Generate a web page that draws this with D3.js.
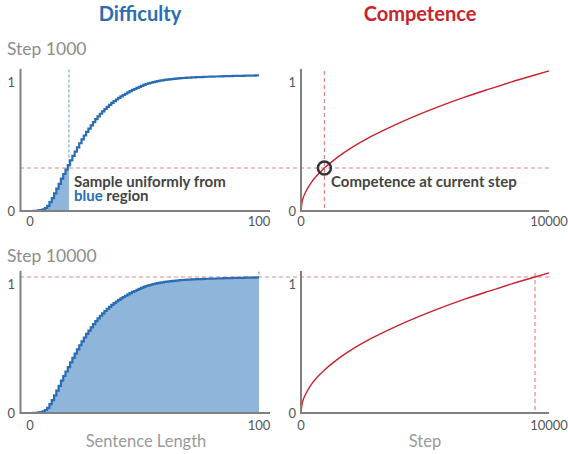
<!DOCTYPE html>
<html>
<head>
<meta charset="utf-8">
<script src="https://cdn.jsdelivr.net/npm/d3@7"></script>
<style>
body { margin: 0; background: #fff; }
text { font-family: Lato, "Open Sans", sans-serif; }
</style>
</head>
<body>
<div id="container"></div>
<script>
var width = 568,
    height = 454;

// sentence length 0..100 and the cumulative share of sentences
var lengths = d3.range(0, 101);
var cdfValues = [
    0, 0, 0.001, 0.002, 0.004, 0.007, 0.012, 0.022, 0.038, 0.065,
    0.095, 0.13, 0.165, 0.2, 0.238, 0.272, 0.305, 0.338, 0.372, 0.405,
    0.437, 0.468, 0.498, 0.527, 0.555, 0.582, 0.606, 0.63, 0.653, 0.675,
    0.696, 0.715, 0.733, 0.75, 0.766, 0.781, 0.795, 0.808, 0.82, 0.832,
    0.843, 0.853, 0.862, 0.872, 0.881, 0.89, 0.897, 0.905, 0.912, 0.92,
    0.928, 0.934, 0.939, 0.943, 0.947, 0.951, 0.955, 0.958, 0.961, 0.964,
    0.966, 0.968, 0.97, 0.972, 0.974, 0.975, 0.977, 0.978, 0.979, 0.98,
    0.981, 0.982, 0.983, 0.984, 0.985, 0.985, 0.986, 0.987, 0.987, 0.988,
    0.988, 0.989, 0.989, 0.99, 0.99, 0.991, 0.991, 0.992, 0.992, 0.993,
    0.993, 0.994, 0.994, 0.994, 0.995, 0.995, 0.996, 0.996, 0.996, 0.997,
    0.997
];

// competence curve over training steps
var compSteps = [0, 50, 100, 200, 400, 700, 1000, 1500, 2000, 3000, 4000, 5000, 6000, 7000, 8000, 9000, 10000, 10600];
var compValues = [0, 0.07, 0.1, 0.14, 0.2, 0.265, 0.316, 0.387, 0.447, 0.548, 0.632, 0.707, 0.775, 0.837, 0.894, 0.949, 1.0, 1.03];

// the two snapshots
var panelSteps = [1000, 10000];
var panelCompetence = [0.316, 1.0];
var panelCutLength = [17, 100];

var lenTicks = [0, 100];
var stepTicks = ["0", "10000"];
var yTicks = [0, 1];

var blue = "#2a6db3",
    blueFill = "#8fb5da",
    blueDash = "#74a8dc",
    red = "#c9232d",
    redDash = "#e5848a",
    axisCol = "#808080";

var svg = d3.select("#container").append("svg")
    .attr("width", width)
    .attr("height", height);

var xLen = d3.scaleLinear().domain([0, 100]).range([30, 259]);
var xStep = d3.scaleLinear().domain([0, 10000]).range([301, 535]);

var cdf = lengths.map((l, i) => ({len: l, v: cdfValues[i]}));
var comp = compSteps.map((s, i) => ({step: s, v: compValues[i]}));

// titles
svg.append("text").attr("x", 140).attr("y", 21).attr("text-anchor", "middle")
    .attr("font-size", 20).attr("font-weight", "bold").attr("fill", blue).text("Difficulty");
svg.append("text").attr("x", 420).attr("y", 21).attr("text-anchor", "middle")
    .attr("font-size", 20).attr("font-weight", "bold").attr("fill", red).text("Competence");

var rows = [
    {base: 211, labelY: 55, tickDy: 15},
    {base: 413, labelY: 262, tickDy: 17}
];

rows.forEach((row, r) => {
    var y = d3.scaleLinear().domain([0, 1]).range([row.base, row.base - 136]);
    var g = svg.append("g");
    var comp0 = panelCompetence[r];
    var cut = panelCutLength[r];

    g.append("text").attr("x", 7).attr("y", row.labelY)
        .attr("font-size", 17.5).attr("fill", "#8c8c8c")
        .text("Step " + panelSteps[r]);

    // blue region under the difficulty curve
    var area = d3.area()
        .curve(d3.curveStep)
        .x(d => xLen(d.len))
        .y0(y(0))
        .y1(d => y(d.v));
    g.append("path")
        .datum(cdf.filter(d => d.len <= cut))
        .attr("d", area)
        .attr("fill", blueFill);

    // dashed guides
    g.append("line")
        .attr("x1", 20).attr("x2", 549)
        .attr("y1", y(comp0)).attr("y2", y(comp0))
        .attr("stroke", redDash).attr("stroke-width", 1.2)
        .attr("stroke-dasharray", "4,3");
    g.append("line")
        .attr("x1", xLen(cut)).attr("x2", xLen(cut))
        .attr("y1", y(1.04)).attr("y2", y(comp0))
        .attr("stroke", blueDash).attr("stroke-width", 1.2)
        .attr("stroke-dasharray", "3,2");
    g.append("line")
        .attr("x1", xStep(panelSteps[r])).attr("x2", xStep(panelSteps[r]))
        .attr("y1", y(1.03)).attr("y2", y(0))
        .attr("stroke", redDash).attr("stroke-width", 1.2)
        .attr("stroke-dasharray", "4,3");

    // difficulty curve
    var line = d3.line()
        .curve(d3.curveStep)
        .x(d => xLen(d.len))
        .y(d => y(d.v));
    g.append("path")
        .datum(cdf)
        .attr("d", line)
        .attr("fill", "none")
        .attr("stroke", blue)
        .attr("stroke-width", 2.2);

    // competence curve
    var cline = d3.line()
        .curve(d3.curveMonotoneX)
        .x(d => xStep(d.step))
        .y(d => y(d.v));
    g.append("path")
        .datum(comp)
        .attr("d", cline)
        .attr("fill", "none")
        .attr("stroke", red)
        .attr("stroke-width", 1.4);

    // axes
    [[20.5, 270], [301, 549]].forEach(ax => {
        g.append("line")
            .attr("x1", ax[0]).attr("x2", ax[0])
            .attr("y1", y(1.045)).attr("y2", y(0))
            .attr("stroke", axisCol).attr("stroke-width", 2);
        g.append("line")
            .attr("x1", ax[0] - 1).attr("x2", ax[1])
            .attr("y1", y(0)).attr("y2", y(0))
            .attr("stroke", axisCol).attr("stroke-width", 2);
    });

    // y tick labels
    [15, 296].forEach(xr => {
        g.selectAll(null)
            .data(yTicks)
            .enter().append("text")
            .attr("x", xr)
            .attr("y", d => y(d) + (d == 1 ? 11.5 : 5))
            .attr("text-anchor", "end")
            .attr("font-size", 13)
            .attr("fill", "#555")
            .text(d => d);
    });

    // x tick labels
    g.selectAll(null)
        .data(lenTicks)
        .enter().append("text")
        .attr("x", d => xLen(d))
        .attr("y", y(0) + row.tickDy)
        .attr("text-anchor", "middle")
        .attr("font-size", 13)
        .attr("fill", "#555")
        .text(d => d);
    g.selectAll(null)
        .data(stepTicks)
        .enter().append("text")
        .attr("x", (d, i) => i == 0 ? xStep(0) : 549)
        .attr("y", y(0) + row.tickDy)
        .attr("text-anchor", "middle")
        .attr("font-size", 13)
        .attr("fill", "#555")
        .text(d => d);

    if (r == 0) {
        g.append("circle")
            .attr("cx", xStep(panelSteps[r]))
            .attr("cy", y(comp0))
            .attr("r", 6.5)
            .attr("fill", "none")
            .attr("stroke", "#333")
            .attr("stroke-width", 2.5);

        // two-line note kept in one text element
        var note = g.append("text")
            .attr("font-size", 15).attr("font-weight", "bold").attr("fill", "#444");
        note.append("tspan").attr("x", 74).attr("y", 187).text("Sample uniformly from");
        note.append("tspan").attr("x", 74).attr("y", 201).attr("fill", blue).text("blue");
        note.append("tspan").text(" region");

        g.append("text").attr("x", 331).attr("y", 187)
            .attr("font-size", 15).attr("font-weight", "bold").attr("fill", "#444")
            .text("Competence at current step");
    } else {
        g.append("text").attr("x", 146).attr("y", 447).attr("text-anchor", "middle")
            .attr("font-size", 16.5).attr("fill", "#9a9a9a").text("Sentence Length");
        g.append("text").attr("x", 425).attr("y", 447).attr("text-anchor", "middle")
            .attr("font-size", 16.5).attr("fill", "#9a9a9a").text("Step");
    }
});
</script>
</body>
</html>
